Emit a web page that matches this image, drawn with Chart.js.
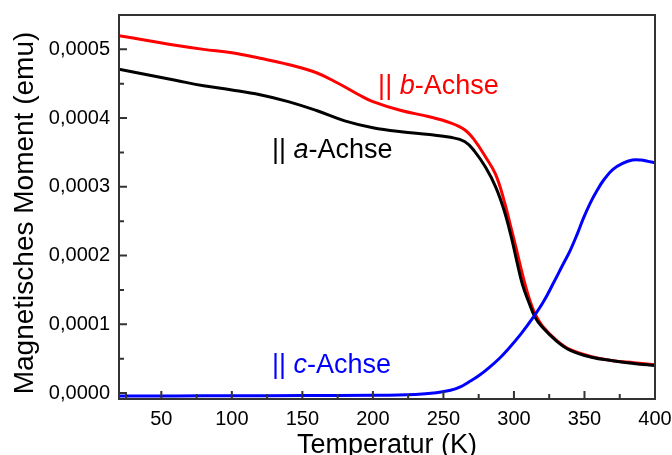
<!DOCTYPE html>
<html>
<head>
<meta charset="utf-8">
<script src="https://cdn.jsdelivr.net/npm/chart.js@4"></script>
<style>
  html, body { margin: 0; padding: 0; background: #fff; }
</style>
</head>
<body>
<canvas id="myChart" width="672" height="455"></canvas>
<script>
// a-Achse (schwarz)
const tempA = [20, 40, 60, 80, 100, 120, 140, 160, 180, 200, 220, 240, 255, 265, 272, 280, 287, 293, 298, 302, 306, 310, 315, 320, 330, 340, 355, 370, 385, 400];
const momentA = [0.000471, 0.000463, 0.000455, 0.000447, 0.000441, 0.000434, 0.000424, 0.000411, 0.000396, 0.000386, 0.000380, 0.000376, 0.000372, 0.000366, 0.000352, 0.000328, 0.000300, 0.000266, 0.000228, 0.000192, 0.000158, 0.000135, 0.000110, 0.000096, 0.000076, 0.000062, 0.000052, 0.000047, 0.000043, 0.000040];

// b-Achse (rot)
const tempB = [20, 40, 60, 80, 100, 120, 140, 160, 175, 190, 200, 220, 240, 255, 265, 272, 280, 287, 293, 298, 302, 306, 310, 315, 320, 330, 340, 355, 370, 385, 400];
const momentB = [0.000520, 0.000513, 0.000506, 0.000500, 0.000495, 0.000487, 0.000478, 0.000466, 0.000451, 0.000434, 0.000424, 0.000411, 0.000402, 0.000393, 0.000383, 0.000368, 0.000343, 0.000318, 0.000280, 0.000240, 0.000207, 0.000173, 0.000143, 0.000115, 0.000098, 0.000077, 0.000063, 0.000053, 0.000047, 0.000044, 0.000041];

// c-Achse (blau)
const tempC = [20, 60, 100, 150, 200, 230, 245, 255, 262, 268, 275, 283, 290, 296, 305, 314, 321, 328, 334, 340, 345, 349, 354, 359, 364, 370, 377, 384, 390, 395, 400];
const momentC = [-0.0000045, -0.0000043, -0.0000040, -0.0000037, -0.0000033, -0.0000020, 0.0000005, 0.000004, 0.000009, 0.000016, 0.000025, 0.000038, 0.000051, 0.000064, 0.000086, 0.000111, 0.000133, 0.000160, 0.000184, 0.000208, 0.000232, 0.000253, 0.000276, 0.000295, 0.000311, 0.000325, 0.000334, 0.000339, 0.000339, 0.000337, 0.000335];

const xTicks = [50, 100, 150, 200, 250, 300, 350, 400];
const yTicks = [0, 0.0001, 0.0002, 0.0003, 0.0004, 0.0005];

const FONT = '"Liberation Sans", Arial, sans-serif';

function toPoints(xs, ys) {
  return xs.map((t, i) => ({ x: t, y: ys[i] }));
}

// Rahmen und nach innen zeigende Ticks
const frameTicks = {
  id: 'frameTicks',
  afterDatasetsDraw(chart) {
    const { ctx, chartArea: a, scales: { x, y } } = chart;
    ctx.save();
    ctx.strokeStyle = '#333';
    ctx.lineWidth = 2;
    ctx.beginPath();
    xTicks.forEach(v => {
      const px = x.getPixelForValue(v);
      ctx.moveTo(px, a.bottom); ctx.lineTo(px, a.bottom - 8);
      const m = x.getPixelForValue(v - 25);
      if (m > a.left + 1) { ctx.moveTo(m, a.bottom); ctx.lineTo(m, a.bottom - 5); }
    });
    yTicks.forEach(v => {
      const py = y.getPixelForValue(v);
      ctx.moveTo(a.left, py); ctx.lineTo(a.left + 8, py);
      const m = y.getPixelForValue(v + 0.00005);
      if (m > a.top + 1) { ctx.moveTo(a.left, m); ctx.lineTo(a.left + 5, m); }
    });
    ctx.stroke();
    ctx.strokeRect(a.left, a.top, a.right - a.left, a.bottom - a.top);
    ctx.restore();
  }
};

// Beschriftungen der Kurven
const notes = [
  { x: 203.7, y: 0.0004356, axis: 'b', color: '#ff0000' },
  { x: 128.5, y: 0.0003416, axis: 'a', color: '#000000' },
  { x: 128.5, y: 0.0000291, axis: 'c', color: '#0000ff' }
];
const curveNotes = {
  id: 'curveNotes',
  afterDraw(chart) {
    const { ctx, scales: { x, y } } = chart;
    ctx.save();
    ctx.textBaseline = 'alphabetic';
    notes.forEach(n => {
      let px = x.getPixelForValue(n.x);
      const py = y.getPixelForValue(n.y);
      ctx.fillStyle = n.color;
      const parts = [['|| ', 'normal'], [n.axis, 'italic'], ['-Achse', 'normal']];
      parts.forEach(([s, st]) => {
        ctx.font = st + ' 27px ' + FONT;
        ctx.fillText(s, px, py);
        px += ctx.measureText(s).width;
      });
    });
    // y-Achsentitel
    ctx.translate(25, 213);
    ctx.rotate(-Math.PI / 2);
    ctx.textAlign = 'center';
    ctx.textBaseline = 'middle';
    ctx.fillStyle = '#000';
    ctx.font = '28px ' + FONT;
    ctx.fillText('Magnetisches Moment (emu)', 0, 0);
    ctx.restore();
  }
};

const ctx = document.getElementById('myChart');
new Chart(ctx, {
  type: 'line',
  data: {
    datasets: [
      { label: 'c', data: toPoints(tempC, momentC), borderColor: '#0000ff' },
      { label: 'a', data: toPoints(tempA, momentA), borderColor: '#000000' },
      { label: 'b', data: toPoints(tempB, momentB), borderColor: '#ff0000' }
    ].map(d => Object.assign(d, {
      borderWidth: 3,
      pointRadius: 0,
      fill: false,
      tension: 0.4
    }))
  },
  options: {
    responsive: false,
    animation: false,
    devicePixelRatio: 1,
    layout: { padding: { left: 0, top: 15, right: 0, bottom: 0 } },
    plugins: { legend: { display: false }, tooltip: { enabled: false } },
    scales: {
      x: {
        type: 'linear',
        min: 20,
        max: 400,
        grid: { display: false, drawTicks: false },
        border: { display: false },
        afterBuildTicks: s => { s.ticks = xTicks.map(v => ({ value: v })); },
        afterFit: s => { s.height = 56; s.paddingLeft = 0; s.paddingRight = 17; },
        ticks: {
          color: '#000',
          font: { family: FONT, size: 20 },
          padding: 8,
          maxRotation: 0,
          autoSkip: false
        },
        title: {
          display: true,
          text: 'Temperatur (K)',
          color: '#000',
          font: { family: FONT, size: 27 },
          padding: { top: 0, bottom: -7 }
        }
      },
      y: {
        type: 'linear',
        min: -0.0000087,
        max: 0.00055,
        grid: { display: false, drawTicks: false },
        border: { display: false },
        afterBuildTicks: s => { s.ticks = yTicks.map(v => ({ value: v })); },
        afterFit: s => { s.width = 119; s.paddingTop = 0; s.paddingBottom = 0; },
        ticks: {
          color: '#000',
          font: { family: FONT, size: 20 },
          padding: 9,
          autoSkip: false,
          callback: v => v.toFixed(4).replace('.', ',')
        }
      }
    }
  },
  plugins: [frameTicks, curveNotes]
});
</script>
</body>
</html>
